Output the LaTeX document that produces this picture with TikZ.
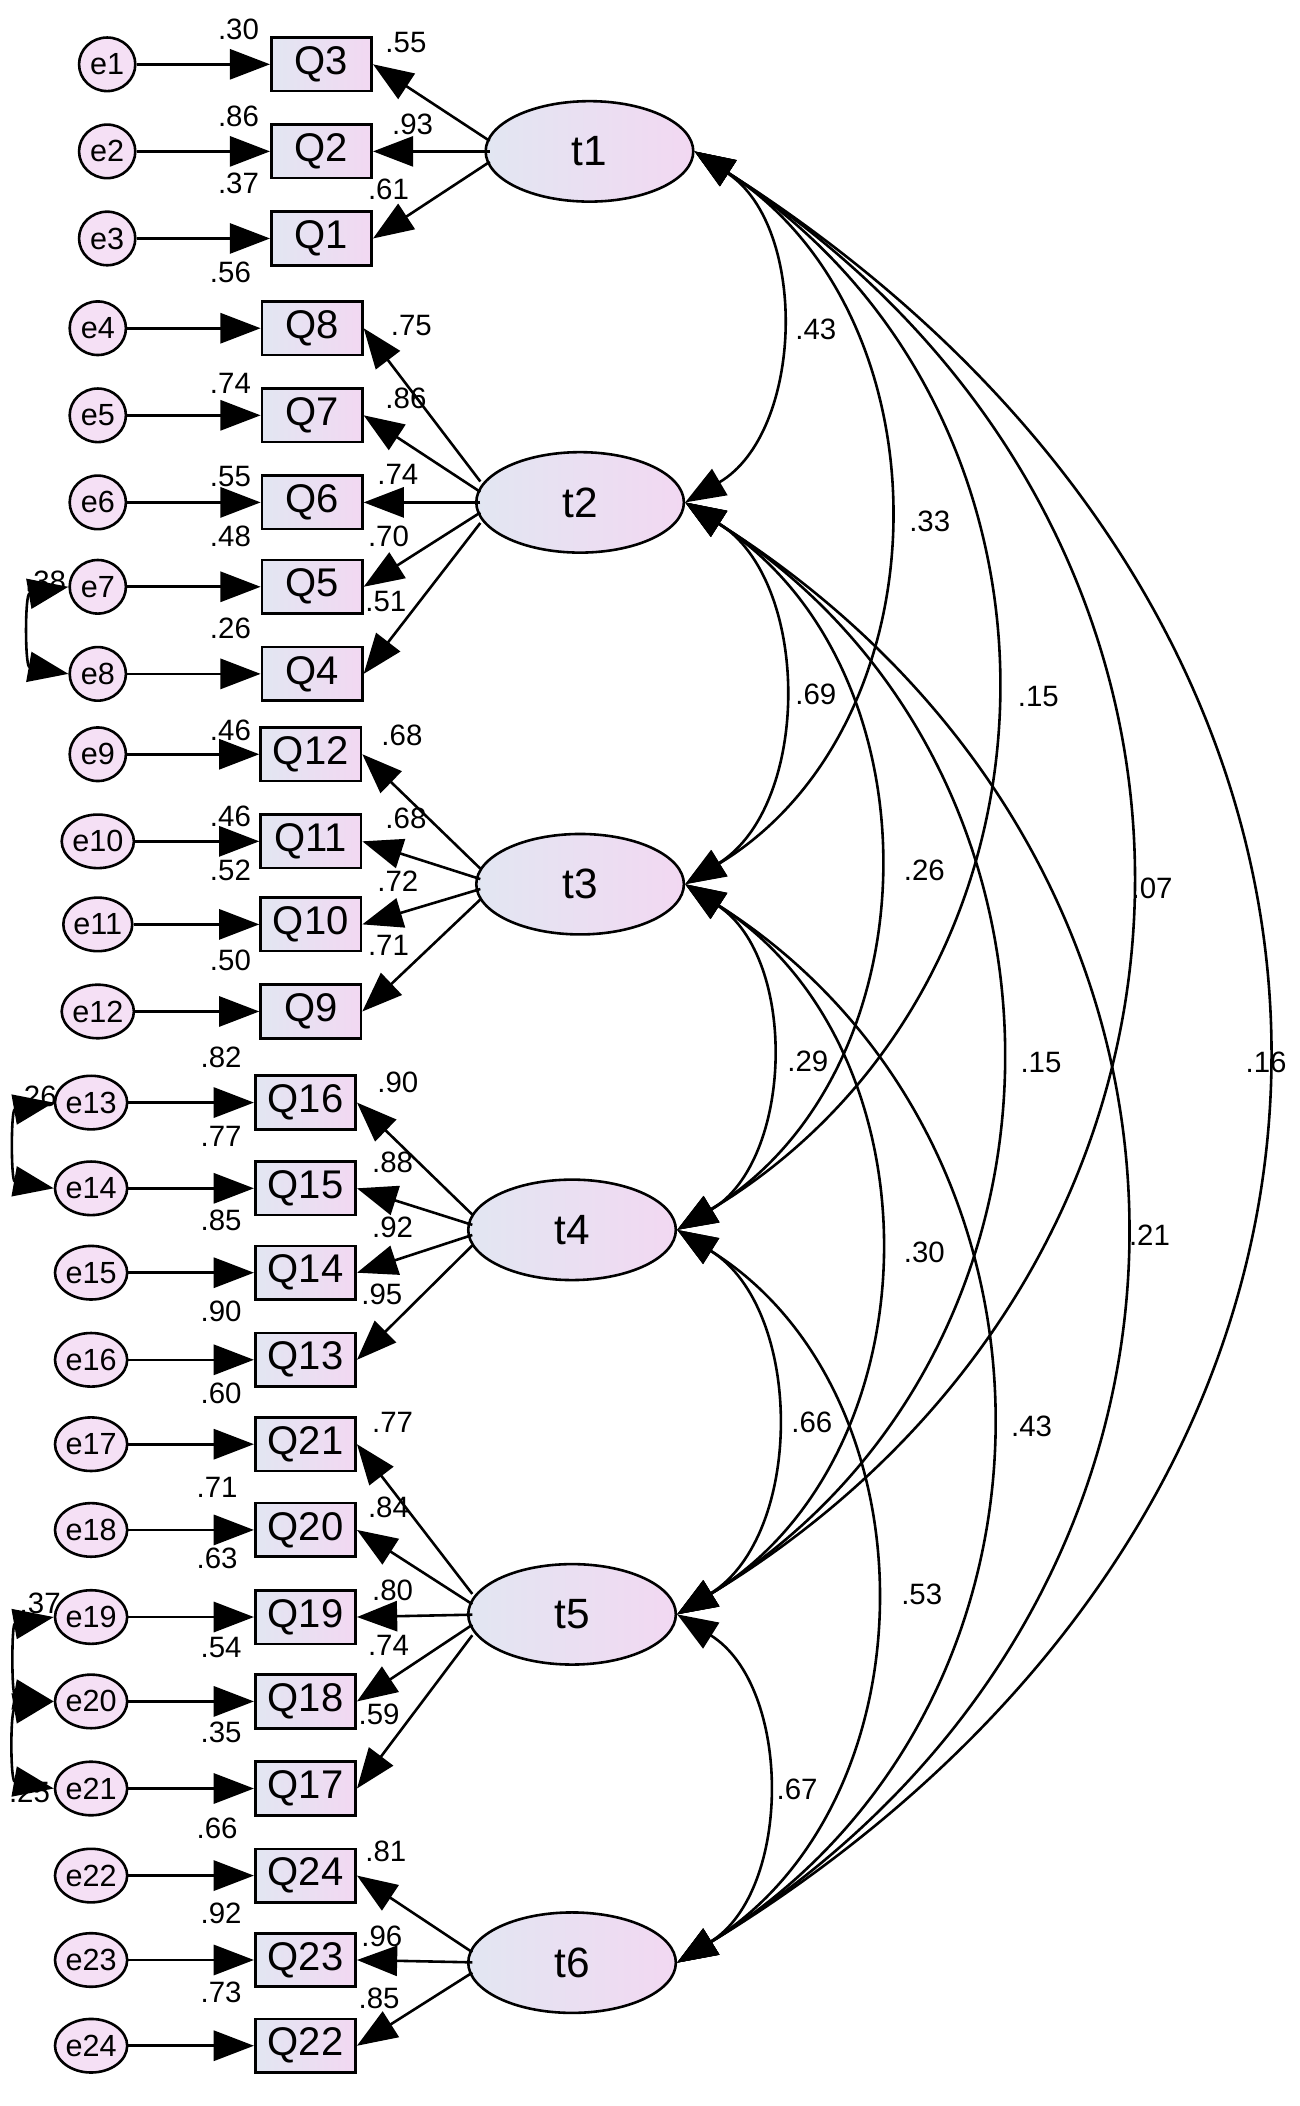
\documentclass[tikz,border=0pt]{standalone}
\usepackage{fontspec}
\setmainfont{Liberation Sans}
\usetikzlibrary{shapes.geometric,arrows.meta,calc}
\definecolor{lb}{RGB}{226,230,242}
\definecolor{pk}{RGB}{242,216,242}
\begin{document}
\begin{tikzpicture}[x=0.02cm,y=-0.02cm,line width=1.1pt,
  box/.style={draw,rectangle,minimum width=1.5cm,minimum height=0.8cm,left color=lb,right color=pk,font=\fontsize{17}{17}\selectfont,inner sep=0pt},
  err/.style={draw,ellipse,minimum width=0.84cm,minimum height=0.8cm,inner sep=0pt,fill=pk!80!white,font=\fontsize{13}{13}\selectfont},
  lat/.style={draw,ellipse,minimum width=3.1cm,minimum height=1.5cm,left color=lb,right color=pk,font=\fontsize{18}{18}\selectfont},
  ar/.style={-{Triangle[length=0.6cm,width=0.45cm]}},
  dar/.style={{Triangle[length=0.6cm,width=0.45cm]}-{Triangle[length=0.6cm,width=0.45cm]}},
  lab/.style={font=\fontsize{12.5}{12.5}\selectfont,inner sep=0pt}]
\useasboundingbox (0,0) rectangle (970,1572);
% latent
\node[lat] (t1) at (440,113) {t1};
\node[lat] (t2) at (433,375) {t2};
\node[lat] (t3) at (433,660) {t3};
\node[lat] (t4) at (427,918) {t4};
\node[lat] (t5) at (427,1205) {t5};
\node[lat] (t6) at (427,1465) {t6};
\foreach \e/\q/\y/\bx/\ex/\t/\ty in {1/3/48/240/80/t1/113,2/2/113/240/80/t1/113,3/1/178/240/80/t1/113,
 4/8/245/233/73/t2/375,5/7/310/233/73/t2/375,6/6/375/233/73/t2/375,7/5/438/233/73/t2/375,8/4/503/233/73/t2/375,
 9/12/563/232/73/t3/660,10/11/628/232/73/t3/660,11/10/690/232/73/t3/660,12/9/755/232/73/t3/660,
 13/16/823/228/68/t4/918,14/15/887/228/68/t4/918,15/14/950/228/68/t4/918,16/13/1015/228/68/t4/918,
 17/21/1078/228/68/t5/1205,18/20/1142/228/68/t5/1205,19/19/1207/228/68/t5/1205,20/18/1270/228/68/t5/1205,21/17/1335/228/68/t5/1205,
 22/24/1400/228/68/t6/1465,23/23/1463/228/68/t6/1465,24/22/1527/228/68/t6/1465}{
  \node[box] (Q\q) at (\bx,\y) {Q\q};
  \node[err] (e\e) at (\ex,\y) {e\e};
  \draw[ar] (e\e) -- (Q\q);
  \draw[ar] ($(\t.west)+(4,{(\y-\ty)*0.12})$) -- (Q\q.east);
}
% error covariances
\draw[dar] (e7.west) to[bend right=80,looseness=1.3] (e8.west);
\draw[dar] (e13.west) to[bend right=80,looseness=1.3] (e14.west);
\draw[dar] (e19.west) to[bend right=80,looseness=1.3] (e20.west);
\draw[dar] (e20.west) to[bend right=80,looseness=1.3] (e21.west);
% latent covariances
\foreach \a/\b/\k in {t1/t2/1,t1/t3/2,t1/t4/3,t1/t5/4,t1/t6/5,t2/t3/1,t2/t4/2,t2/t5/3,t2/t6/4,t3/t4/1,t3/t5/2,t3/t6/3,t4/t5/1,t4/t6/2,t5/t6/1}{
  \draw[dar] (\a.east) to[bend left=58,looseness={1+0.07*(\k-1)}] (\b.east);
}
% labels
\foreach \x/\y/\s in {178/22/.30,303/32/.55,178/87/.86,308/93/.93,178/137/.37,290/141/.61,172/203/.56,
 307/243/.75,172/286/.74,303/297/.86,172/356/.55,297/354/.74,172/400/.48,290/400/.70,34/434/.38,288/449/.51,172/469/.26,
 172/545/.46,300/549/.68,172/609/.46,303/611/.68,172/650/.52,297/658/.72,172/717/.50,290/706/.71,
 165/789/.82,297/808/.90,27/818/.26,165/848/.77,293/868/.88,165/911/.85,293/916/.92,165/979/.90,285/966/.95,165/1040/.60,
 293/1062/.77,162/1110/.71,290/1125/.84,162/1163/.63,293/1187/.80,30/1197/.37,165/1230/.54,290/1228/.74,283/1280/.59,165/1293/.35,22/1338/.25,
 162/1365/.66,288/1382/.81,165/1428/.92,285/1445/.96,165/1487/.73,283/1492/.85,
 609/246/.43,694/389/.33,775/520/.15,860/663/.07,945/793/.16,609/518/.69,690/650/.26,777/793/.15,858/922/.21,
 603/792/.29,690/935/.30,770/1065/.43,606/1062/.66,688/1190/.53,595/1336/.67}{
  \node[lab] at (\x,\y) {\s};
}
\end{tikzpicture}
\end{document}
